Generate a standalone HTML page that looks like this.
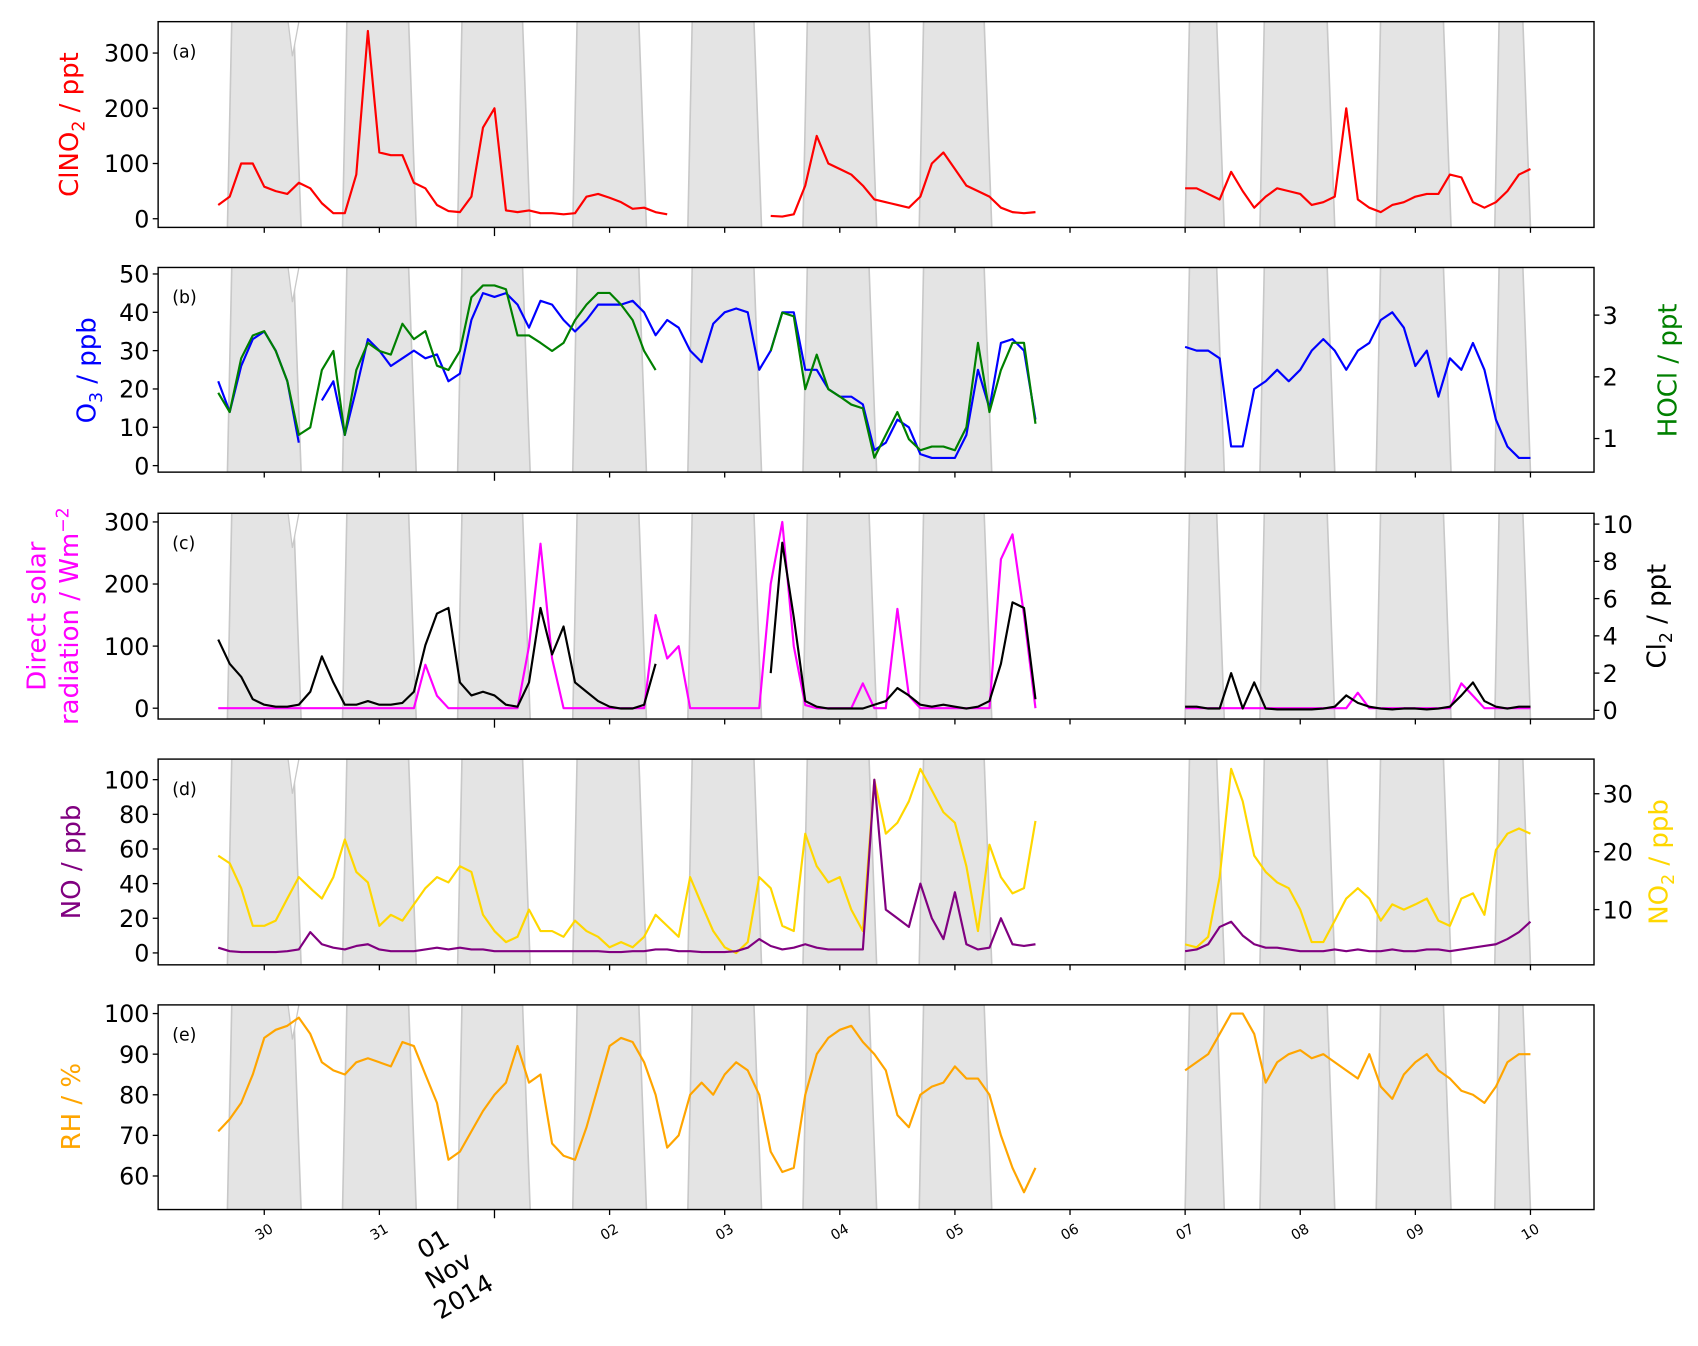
<!DOCTYPE html>
<html><head><meta charset="utf-8"><style>
html,body{margin:0;padding:0;background:#fff;}
svg{display:block;font-family:"DejaVu Sans","Liberation Sans",sans-serif;}
</style></head><body>
<svg id="chart" width="1698" height="1346" viewBox="0 0 1568 1243" xmlns="http://www.w3.org/2000/svg"></svg>
<script>
// Time grid: days since 30 Oct 00:00, step 0.1 day from -0.4
const timeStart = -0.4;
const timeStep = 0.1;
const dayTickLabels = ["30","31","01","02","03","04","05","06","07","08","09","10"];
const nights = [[-0.32,0.32],[0.68,1.32],[1.68,2.31],[2.68,3.32],[3.68,4.32],[4.68,5.32],[5.69,6.32],[8.0,8.34],[8.65,9.30],[9.66,10.31],[10.69,11.0]];
const N12 = [null,null,null,null,null,null,null,null,null,null,null,null];
const clno2 = [25,40,100,100,58,50,45,65,55,28,10,10,80,340,120,115,115,65,55,25,14,12,40,165,200,15,12,15,10,10,8,10,40,45,38,30,18,20,12,8,null,null,null,null,null,null,null,null,5,4,8,60,150,100,90,80,60,35,30,25,20,40,100,120,90,60,50,40,20,12,10,12].concat(N12,[55,55,45,35,85,50,20,40,55,50,45,25,30,40,200,35,20,12,25,30,40,45,45,80,75,30,20,30,50,80,90]);
const o3 = [22,14,26,33,35,30,22,6,null,17,22,8,20,33,30,26,28,30,28,29,22,24,38,45,44,45,42,36,43,42,38,35,38,42,42,42,43,40,34,38,36,30,27,37,40,41,40,25,30,40,40,25,25,20,18,18,16,4,6,12,10,3,2,2,2,8,25,15,32,33,30,12].concat(N12,[31,30,30,28,5,5,20,22,25,22,25,30,33,30,25,30,32,38,40,36,26,30,18,28,25,32,25,12,5,2,2]);
const hocl = [1.74,1.43,2.30,2.67,2.74,2.42,1.93,1.06,1.18,2.11,2.42,1.06,2.11,2.55,2.42,2.36,2.86,2.61,2.74,2.18,2.11,2.42,3.29,3.48,3.48,3.42,2.67,2.67,2.55,2.42,2.55,2.92,3.17,3.36,3.36,3.17,2.92,2.42,2.11,null,null,null,null,null,null,null,null,null,2.42,3.04,2.98,1.80,2.36,1.80,1.68,1.55,1.49,0.69,1.06,1.43,0.99,0.81,0.87,0.87,0.81,1.18,2.55,1.43,2.11,2.55,2.55,1.24];
const solar = [0,0,0,0,0,0,0,0,0,0,0,0,0,0,0,0,0,0,70,20,0,0,0,0,0,0,0,100,265,80,0,0,0,0,0,0,0,0,150,80,100,0,0,0,0,0,0,0,200,300,100,5,0,0,0,0,40,0,0,160,20,0,0,0,0,0,0,0,240,280,150,0].concat(N12,[0,0,0,0,0,0,0,0,0,0,0,0,0,0,0,25,0,0,0,0,0,0,0,0,40,20,0,0,0,0,0]);
const cl2 = [3.8,2.5,1.8,0.6,0.3,0.2,0.2,0.3,1.0,2.9,1.5,0.3,0.3,0.5,0.3,0.3,0.4,1.0,3.5,5.2,5.5,1.5,0.8,1.0,0.8,0.3,0.2,1.5,5.5,3.0,4.5,1.5,1.0,0.5,0.2,0.1,0.1,0.3,2.5,null,null,null,null,null,null,null,null,null,2.0,9.0,5.0,0.5,0.2,0.1,0.1,0.1,0.1,0.3,0.5,1.2,0.8,0.3,0.2,0.3,0.2,0.1,0.2,0.5,2.5,5.8,5.5,0.6].concat(N12,[0.2,0.2,0.1,0.1,2.0,0.1,1.5,0.1,0.05,0.05,0.05,0.05,0.1,0.2,0.8,0.4,0.2,0.1,0.05,0.1,0.1,0.05,0.1,0.2,0.8,1.5,0.5,0.2,0.1,0.2,0.2]);
const no = [3,1,0.5,0.5,0.5,0.5,1,2,12,5,3,2,4,5,2,1,1,1,2,3,2,3,2,2,1,1,1,1,1,1,1,1,1,1,0.5,0.5,1,1,2,2,1,1,0.5,0.5,0.5,1,3,8,4,2,3,5,3,2,2,2,2,100,25,20,15,40,20,8,35,5,2,3,20,5,4,5].concat(N12,[1,2,5,15,18,10,5,3,3,2,1,1,1,2,1,2,1,1,2,1,1,2,2,1,2,3,4,5,8,12,18]);
const no2 = [19.3,18,13.7,7.2,7.2,8.1,11.9,15.6,13.7,11.9,15.6,22.1,16.5,14.7,7.2,9.1,8.1,10.9,13.7,15.6,14.7,17.5,16.5,9.1,6.3,4.4,5.3,10,6.3,6.3,5.3,8.1,6.3,5.3,3.5,4.4,3.5,5.3,9.1,7.2,5.3,15.6,10.9,6.3,3.5,2.5,4.4,15.6,13.7,7.2,6.3,23.1,17.5,14.7,15.6,10,6.3,32.4,23.1,25,28.7,34.3,30.6,26.8,25,17.5,6.3,21.2,15.6,12.8,13.7,25.3].concat(N12,[4.0,3.5,5.3,15.6,34.3,28.7,19.3,16.5,14.7,13.7,10,4.4,4.4,8.1,11.9,13.7,11.9,8.1,10.9,10,10.9,11.9,8.1,7.2,11.9,12.8,9.1,20.3,23.1,24,23.1]);
const rh = [71,74,78,85,94,96,97,99,95,88,86,85,88,89,88,87,93,92,85,78,64,66,71,76,80,83,92,83,85,68,65,64,72,82,92,94,93,88,80,67,70,80,83,80,85,88,86,80,66,61,62,80,90,94,96,97,93,90,86,75,72,80,82,83,87,84,84,80,70,62,56,62].concat(N12,[86,88,90,95,100,100,95,83,88,90,91,89,90,88,86,84,90,82,79,85,88,90,86,84,81,80,78,82,88,90,90]);
const ticksA = [0,100,200,300];
const ticksBL = [0,10,20,30,40,50];
const ticksBR = [1,2,3];
const ticksCL = [0,100,200,300];
const ticksCR = [0,2,4,6,8,10];
const ticksDL = [0,20,40,60,80,100];
const ticksDR = [10,20,30];
const ticksE = [60,70,80,90,100];

const NS = "http://www.w3.org/2000/svg";
const svg = document.getElementById('chart');
const X0 = 146, X1 = 1472;
function xs(t){ return X0 + (t + 0.922) * 106.3; }
function lin(d0,d1,r0,r1){ return v => r0 + (v - d0) * (r1 - r0) / (d1 - d0); }
function mk(tag, attrs, parent){ const e = document.createElementNS(NS, tag); for (const k in attrs) e.setAttribute(k, attrs[k]); (parent||svg).appendChild(e); return e; }

const panels = [
 {id:'a', top:20, bot:210, yl:lin(0,300,202,49), tl:ticksA, series:[{d:clno2,c:'#ff0000',s:'l',n:'clno2-line'}], lab:'(a)'},
 {id:'b', top:247, bot:436, yl:lin(0,50,430,253), yr:lin(1,3,405,291), tl:ticksBL, tr:ticksBR, series:[{d:o3,c:'#0000ff',s:'l',n:'o3-line'},{d:hocl,c:'#008000',s:'r',n:'hocl-line'}], lab:'(b)'},
 {id:'c', top:474, bot:664, yl:lin(0,300,654,482), yr:lin(0,10,656,484), tl:ticksCL, tr:ticksCR, series:[{d:solar,c:'#ff00ff',s:'l',n:'solar-radiation-line'},{d:cl2,c:'#000000',s:'r',n:'cl2-line'}], lab:'(c)'},
 {id:'d', top:701, bot:891, yl:lin(0,100,880,720), yr:lin(10,30,840,733), tl:ticksDL, tr:ticksDR, series:[{d:no2,c:'#ffd700',s:'r',n:'no2-line'},{d:no,c:'#800080',s:'l',n:'no-line'}], lab:'(d)'},
 {id:'e', top:928, bot:1117, yl:lin(60,100,1086,936), tl:ticksE, series:[{d:rh,c:'#ffa500',s:'l',n:'rh-line'}], lab:'(e)'}
];

panels.forEach(p => {
  const g = mk('g', {});
  
  
  const cp = mk('clipPath', {id:'clip-' + p.id}, g);
  mk('rect', {x:X0, y:p.top, width:X1 - X0, height:p.bot - p.top}, cp);
  // night shading
  nights.forEach((n, k) => {
    const a = xs(n[0]), b = xs(n[1]);
    const poly = mk('polygon', {points:`${a},${p.bot} ${a+4},${p.top} ${b-7},${p.top} ${b},${p.bot}`, fill:'#e4e4e4', stroke:'#c8c8c8', 'stroke-width':1.5, 'clip-path':`url(#clip-${p.id})`}, g);
    
    
  });
  const notch = mk('polygon', {points:`266,${p.top} 276,${p.top} 270,${p.top+32}`, fill:'#ffffff', stroke:'#c8c8c8', 'stroke-width':1.2}, g);
  
  
  // series
  p.series.forEach(s => {
    const sc = s.s === 'l' ? p.yl : p.yr;
    let d = '', pen = false;
    s.d.forEach((v, i) => {
      if (v === null) { pen = false; return; }
      const x = xs(timeStart + i * timeStep), y = sc(v);
      d += (pen ? 'L' : 'M') + x.toFixed(1) + ',' + y.toFixed(1);
      pen = true;
    });
    const path = mk('path', {d:d, fill:'none', stroke:s.c, 'stroke-width':2, 'stroke-linejoin':'round', 'clip-path':`url(#clip-${p.id})`}, g);
    
    
  });
  // frame
  const fr = mk('rect', {x:X0, y:p.top, width:X1 - X0, height:p.bot - p.top, fill:'none', stroke:'#000', 'stroke-width':1.3}, g);
  
  
  // left ticks
  p.tl.forEach(v => {
    const y = p.yl(v);
    mk('line', {x1:X0 - 5, x2:X0, y1:y, y2:y, stroke:'#000', 'stroke-width':1.2}, g);
    const t = mk('text', {x:X0 - 8, y:y + 8, 'text-anchor':'end', 'font-size':22, fill:'#000'}, g);
    t.textContent = v;
    
    
  });
  if (p.tr) p.tr.forEach(v => {
    const y = p.yr(v);
    mk('line', {x1:X1, x2:X1 + 5, y1:y, y2:y, stroke:'#000', 'stroke-width':1.2}, g);
    const t = mk('text', {x:X1 + 8, y:y + 8, 'text-anchor':'start', 'font-size':22, fill:'#000'}, g);
    t.textContent = v;
    
    
  });
  // bottom ticks
  dayTickLabels.forEach((lab, k) => {
    const x = xs(k);
    mk('line', {x1:x, x2:x, y1:p.bot, y2:p.bot + (k === 2 ? 8 : 5), stroke:'#000', 'stroke-width':1.2}, g);
  });
  const pl = mk('text', {x:X0 + 13, y:p.top + 33, 'font-size':16, fill:'#000'}, g);
  pl.textContent = p.lab;
  
  
});

// x tick labels under panel e
dayTickLabels.forEach((lab, k) => {
  if (k === 2) return;
  const x = xs(k);
  const t = mk('text', {x:x, y:1142, 'text-anchor':'middle', 'font-size':13, fill:'#000', transform:`rotate(-30 ${x} 1138)`});
  t.textContent = lab;
  
  
});
</script>
<svg style="position:absolute;left:0;top:0" width="1698" height="1346" viewBox="0 0 1568 1243" xmlns="http://www.w3.org/2000/svg" font-family="DejaVu Sans, Liberation Sans, sans-serif">
  <g transform="translate(418 1180) rotate(-30)" font-size="23" text-anchor="middle" fill="#000">
    <text y="-28">01</text><text y="0">Nov</text><text y="28">2014</text>
  </g>
  <text transform="translate(72 115) rotate(-90)" text-anchor="middle" font-size="24" fill="#ff0000">ClNO<tspan font-size="16" dy="6">2</tspan><tspan dy="-6"> / ppt</tspan></text>
  <text transform="translate(88 342) rotate(-90)" text-anchor="middle" font-size="24" fill="#0000ff">O<tspan font-size="16" dy="6">3</tspan><tspan dy="-6"> / ppb</tspan></text>
  <text transform="translate(1548 342) rotate(-90)" text-anchor="middle" font-size="24" fill="#008000">HOCl / ppt</text>
  <text transform="translate(42 569) rotate(-90)" text-anchor="middle" font-size="24" fill="#ff00ff">Direct solar</text>
  <text transform="translate(72 569) rotate(-90)" text-anchor="middle" font-size="24" fill="#ff00ff">radiation / Wm<tspan font-size="16" dy="-9">−2</tspan></text>
  <text transform="translate(1538 569) rotate(-90)" text-anchor="middle" font-size="24" fill="#000">Cl<tspan font-size="16" dy="6">2</tspan><tspan dy="-6"> / ppt</tspan></text>
  <text transform="translate(74 796) rotate(-90)" text-anchor="middle" font-size="24" fill="#800080">NO / ppb</text>
  <text transform="translate(1540 796) rotate(-90)" text-anchor="middle" font-size="24" fill="#ffd700">NO<tspan font-size="16" dy="6">2</tspan><tspan dy="-6"> / ppb</tspan></text>
  <text transform="translate(74 1022) rotate(-90)" text-anchor="middle" font-size="24" fill="#ffa500">RH / %</text>
</svg>
</body></html>
